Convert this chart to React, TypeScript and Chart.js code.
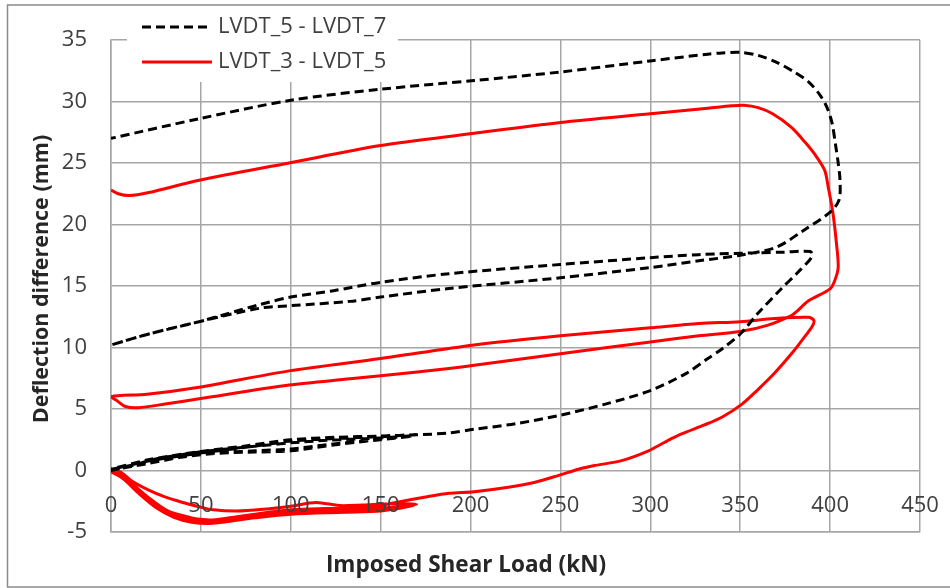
import { useEffect, useRef } from "react";
import { Chart, registerables } from "chart.js";

Chart.register(...registerables);

const FONT = '"Open Sans", "DejaVu Sans", sans-serif';

const seriesNames = ["LVDT_5 - LVDT_7", "LVDT_3 - LVDT_5"];
const xTitle = "Imposed Shear Load (kN)";
const yTitle = "Deflection difference (mm)";

const xMin = 0;
const xMax = 450;
const xStep = 50;
const yMin = -5;
const yMax = 35;
const yStep = 5;

// LVDT_5 - LVDT_7: load (kN) and deflection difference (mm), in test order
const load57 = [
  0, 12, 21, 31, 49, 68, 86, 100, 120, 150, 168,
  150, 125, 100, 80, 60, 40, 20, 0,
  20, 49, 68, 86, 100, 125, 150, 170,
  150, 120, 100, 80, 50, 25, 0,
  20, 50, 75, 100, 125, 150, 170, 188, 202, 225, 250, 275, 300, 320, 332, 340, 350, 360, 373, 382, 390, 389,
  374, 360, 327, 300, 250, 188, 150, 123, 100, 83, 49, 21, 0,
  21, 49, 83, 100, 133, 150, 188, 250, 300, 327, 350, 370, 385, 400, 405, 405.5, 404.5, 403, 401, 398, 394, 388,
  380, 370, 360, 350, 340, 332, 300, 250, 202, 150, 100, 49, 0,
];
const diff57 = [
  0, 0.4, 0.8, 1.1, 1.5, 1.8, 2.05, 2.25, 2.45, 2.65, 2.8,
  2.5, 2.1, 1.6, 1.5, 1.4, 1.1, 0.55, 0.05,
  0.75, 1.4, 1.75, 2.1, 2.4, 2.6, 2.75, 2.9,
  2.55, 2.1, 1.75, 1.6, 1.35, 0.8, 0.1,
  0.85, 1.55, 2.0, 2.5, 2.7, 2.8, 2.9, 3.05, 3.35, 3.8, 4.5, 5.4, 6.5, 7.9, 9.1, 9.9, 11.1, 12.8, 14.8, 16.1, 17.4, 17.8,
  17.75, 17.7, 17.55, 17.3, 16.75, 16.0, 15.3, 14.6, 14.1, 13.5, 12.1, 11.1, 10.2,
  11.1, 12.1, 13.2, 13.4, 13.75, 14.1, 14.8, 15.67, 16.5, 17.05, 17.5, 18.15, 19.5, 21.0, 22.0, 23.6, 25.0, 26.5, 28.3, 29.6, 30.6, 31.6,
  32.4, 33.2, 33.75, 34.0, 33.95, 33.85, 33.3, 32.4, 31.7, 31.0, 30.1, 28.6, 27.0,
];

// LVDT_3 - LVDT_5: load (kN) and deflection difference (mm), in test order
const load35 = [
  0, 5, 12, 21, 30, 40, 49, 57, 70, 85, 100, 114, 127, 140, 155, 170,
  155, 135, 115, 100, 85, 70, 58, 48, 38, 30, 21, 12, 5, 0,
  7, 14, 22, 31, 40, 49, 58, 68, 86, 100, 120, 140, 160, 168,
  150, 130, 100, 80, 65, 55, 45, 35, 25, 15, 7, 0,
  10, 20, 30, 40, 50, 62, 75, 95, 115, 135, 150, 160, 175, 188, 202, 221, 236, 249, 260, 269, 284, 299, 308, 317,
  330, 340, 351, 360, 369, 380, 386, 390, 391, 388,
  369, 350, 327, 300, 250, 202, 150, 99, 49, 20, 0,
  4, 8, 15, 30, 49, 99, 133, 150, 188, 202, 250, 300, 327, 350, 365, 378.5, 381, 388, 400, 402.6, 404.5, 403.5, 401.5,
  399, 397, 392, 386, 378.5, 368, 360, 352, 345, 332, 300, 250, 201, 149, 99, 49, 21, 10, 4, 0,
];
const diff35 = [
  0, -0.1, -0.9, -1.6, -2.15, -2.6, -2.95, -3.2, -3.3, -3.15, -2.9, -2.6, -2.85, -2.8, -2.7, -2.75,
  -3.0, -3.1, -3.1, -3.2, -3.45, -3.75, -4.0, -3.95, -3.6, -3.2, -2.4, -1.35, -0.4, -0.05,
  -0.5, -1.4, -2.5, -3.4, -3.9, -4.2, -4.25, -4.05, -3.55, -3.35, -3.2, -3.2, -2.95, -2.85,
  -3.3, -3.4, -3.55, -3.85, -4.15, -4.3, -4.2, -3.8, -3.0, -1.8, -0.7, -0.1,
  -0.9, -2.1, -3.15, -3.75, -4.05, -4.1, -3.8, -3.45, -3.2, -3.05, -2.85, -2.55, -2.15, -1.85, -1.72, -1.36, -0.95, -0.4, 0.1, 0.4, 0.8, 1.6, 2.3, 2.95,
  3.7, 4.35, 5.4, 6.6, 7.9, 9.75, 10.9, 11.7, 12.2, 12.45,
  12.35, 12.1, 11.95, 11.6, 10.95, 10.2, 9.1, 8.1, 6.77, 6.2, 6.0,
  5.6, 5.2, 5.1, 5.4, 5.83, 6.95, 7.45, 7.7, 8.3, 8.55, 9.5, 10.45, 10.95, 11.3, 11.8, 12.6, 12.87, 13.8, 14.77, 15.45, 16.5, 18.5, 21.0,
  23.0, 24.4, 25.6, 26.7, 27.9, 29.0, 29.5, 29.7, 29.65, 29.45, 29.0, 28.3, 27.4, 26.4, 25.0, 23.6, 22.6, 22.35, 22.5, 22.8,
];

const seriesColors = ["#000000", "#ff0000"];
const seriesDashes = [[9, 5], []];

const toPoints = (xs: number[], ys: number[]) => xs.map((x, i) => ({ x, y: ys[i] }));

const chartDecor = {
  id: "chartDecor",
  beforeDraw(chart: any) {
    const { ctx, width, height } = chart;
    ctx.save();
    ctx.fillStyle = "#ffffff";
    ctx.fillRect(0, 0, width, height);
    ctx.restore();
  },
  afterDatasetsDraw(chart: any) {
    const { ctx } = chart;
    const xs = chart.scales.x;
    const ys = chart.scales.y;
    ctx.save();

    // tick labels: x labels sit just under the zero line
    ctx.font = `22px ${FONT}`;
    ctx.fillStyle = "#404040";
    ctx.textBaseline = "middle";
    ctx.textAlign = "center";
    const zeroY = ys.getPixelForValue(0);
    xs.ticks.forEach((t: any) => {
      ctx.fillText(String(t.value), xs.getPixelForValue(t.value), zeroY + 35);
    });
    ctx.textAlign = "right";
    ys.ticks.forEach((t: any) => {
      ctx.fillText(String(t.value), 87, ys.getPixelForValue(t.value));
    });

    // legend box inside the plot
    ctx.fillStyle = "#ffffff";
    ctx.fillRect(127, 8, 271, 74);
    chart.data.datasets.forEach((ds: any, i: number) => {
      const y = 27 + i * 35;
      ctx.beginPath();
      ctx.strokeStyle = ds.borderColor;
      ctx.lineWidth = 3;
      ctx.setLineDash(ds.borderDash || []);
      ctx.moveTo(142, y);
      ctx.lineTo(212, y);
      ctx.stroke();
      ctx.setLineDash([]);
      ctx.fillStyle = "#404040";
      ctx.textAlign = "left";
      ctx.fillText(ds.label, 218, y);
    });

    // axis titles
    ctx.fillStyle = "#262626";
    ctx.textAlign = "center";
    ctx.font = `bold 22.5px ${FONT}`;
    ctx.fillText(xTitle, 466, 566);
    ctx.save();
    ctx.font = `bold 21.5px ${FONT}`;
    ctx.translate(42, 279);
    ctx.rotate(-Math.PI / 2);
    ctx.fillText(yTitle, 0, 0);
    ctx.restore();

    // outer frame
    ctx.strokeStyle = "#8a8a8a";
    ctx.lineWidth = 1.5;
    ctx.strokeRect(7.5, 5, 960, 582);
    ctx.restore();
  },
};

export default function App() {
  const canvasRef = useRef<HTMLCanvasElement | null>(null);

  useEffect(() => {
    const canvas = canvasRef.current;
    if (!canvas) return;
    const gridColor = "#a6a6a6";
    const chart = new Chart(canvas, {
      type: "scatter",
      data: {
        datasets: [
          {
            label: seriesNames[0],
            data: toPoints(load57, diff57),
            showLine: true,
            borderColor: seriesColors[0],
            backgroundColor: seriesColors[0],
            borderDash: seriesDashes[0],
            borderWidth: 3,
            pointRadius: 0,
            tension: 0.3,
          },
          {
            label: seriesNames[1],
            data: toPoints(load35, diff35),
            showLine: true,
            borderColor: seriesColors[1],
            backgroundColor: seriesColors[1],
            borderDash: seriesDashes[1],
            borderWidth: 3,
            pointRadius: 0,
            tension: 0.3,
          },
        ],
      },
      options: {
        animation: false,
        responsive: false,
        layout: { padding: { left: 111, top: 40, right: 30, bottom: 56 } },
        scales: {
          x: {
            type: "linear",
            min: xMin,
            max: xMax,
            ticks: { stepSize: xStep, display: false },
            grid: { color: gridColor, lineWidth: 1.5, drawTicks: false },
            border: { color: gridColor, width: 1.5 },
          },
          y: {
            type: "linear",
            min: yMin,
            max: yMax,
            ticks: { stepSize: yStep, display: false },
            grid: { color: gridColor, lineWidth: 1.5, drawTicks: false },
            border: { color: gridColor, width: 1.5 },
          },
        },
        plugins: {
          legend: { display: false },
          tooltip: { enabled: false },
        },
      },
      plugins: [chartDecor],
    });
    return () => chart.destroy();
  }, []);

  return (
    <div style={{ position: "fixed", left: 0, top: 0, width: 950, height: 588, background: "#fff" }}>
      <canvas ref={canvasRef} width={950} height={588} />
    </div>
  );
}
